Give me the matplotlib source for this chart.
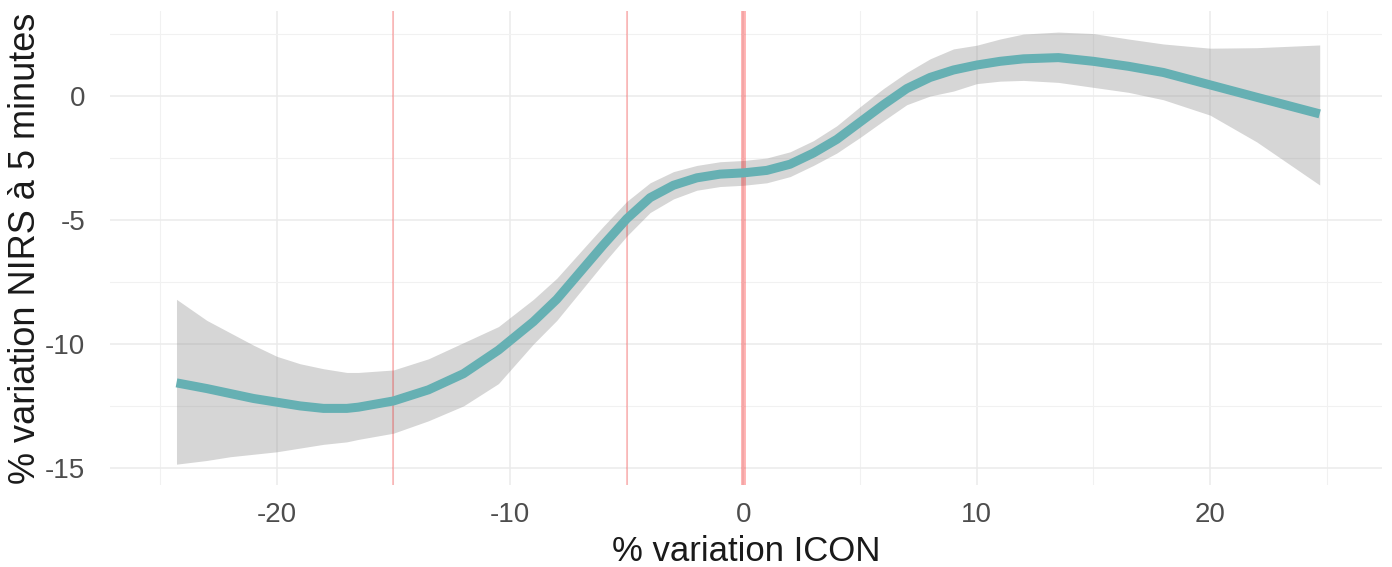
"""
Smooth fit of NIRS variation at 5 minutes against ICON variation,
with its confidence band and reference lines at -15, -5 and 0.
Output: out.png
"""

import matplotlib
matplotlib.use("Agg")
import matplotlib.pyplot as plt
from matplotlib.ticker import MultipleLocator

# values
icon_pct = [-24.3, -23, -22, -21, -20, -19, -18, -17, -16.5, -15, -13.5, -12,
            -10.5, -9, -8, -7, -6, -5, -4, -3, -2, -1, 0, 1, 2, 3, 4, 5, 6, 7,
            8, 9, 10, 11, 12, 13.5, 15, 16.5, 18, 20, 22, 24.7]
nirs_fit = [-11.57, -11.8, -12.0, -12.2, -12.35, -12.5, -12.6, -12.6, -12.55,
            -12.3, -11.85, -11.2, -10.25, -9.1, -8.2, -7.1, -6.0, -4.95, -4.1,
            -3.6, -3.3, -3.15, -3.1, -3.0, -2.75, -2.3, -1.75, -1.05, -0.35,
            0.3, 0.75, 1.05, 1.25, 1.4, 1.5, 1.55, 1.4, 1.2, 0.95, 0.45, -0.05,
            -0.72]
nirs_upper = [-8.2, -9.05, -9.55, -10.05, -10.5, -10.8, -11.0, -11.15, -11.15,
              -11.05, -10.6, -9.95, -9.3, -8.2, -7.35, -6.3, -5.25, -4.25, -3.5,
              -3.05, -2.8, -2.65, -2.6, -2.5, -2.25, -1.8, -1.2, -0.43, 0.3,
              0.95, 1.5, 1.9, 2.05, 2.3, 2.5, 2.58, 2.52, 2.3, 2.1, 1.93, 1.95,
              2.06]
nirs_lower = [-14.85, -14.7, -14.55, -14.45, -14.35, -14.2, -14.05, -13.95,
              -13.85, -13.6, -13.1, -12.5, -11.6, -10.0, -9.05, -7.9, -6.75,
              -5.65, -4.7, -4.15, -3.8, -3.65, -3.6, -3.5, -3.25, -2.8, -2.3,
              -1.67, -1.0, -0.35, 0.0, 0.2, 0.5, 0.6, 0.63, 0.55, 0.35, 0.15,
              -0.15, -0.77, -1.85, -3.59]

thin_refs = [-15, -5]
thick_ref = 0

x_ticks = [-20, -10, 0, 10, 20]
y_ticks = [-15, -10, -5, 0]

plt.rcParams["font.family"] = ["Liberation Sans", "DejaVu Sans"]
plt.rcParams["axes.unicode_minus"] = False

fig = plt.figure(figsize=(13.92, 5.67), dpi=100)
ax = fig.add_axes([110 / 1392, 82 / 567, 1272 / 1392, 474 / 567])

# ggplot-like minimal grid
ax.set_xlim(-27.15, 27.37)
ax.set_ylim(-15.69, 3.43)
ax.set_xticks(x_ticks)
ax.set_yticks(y_ticks)
ax.xaxis.set_minor_locator(MultipleLocator(5))
ax.yaxis.set_minor_locator(MultipleLocator(2.5))
ax.grid(True, which="major", color="#EBEBEB", linewidth=1.1, zorder=0)
ax.grid(True, which="minor", color="#F1F1F1", linewidth=0.8, zorder=0)
ax.set_axisbelow(True)
for s in ax.spines.values():
    s.set_visible(False)
ax.tick_params(which="both", length=0)
ax.tick_params(axis="x", labelsize=20, labelcolor="#4D4D4D", pad=12)
ax.tick_params(axis="y", labelsize=20, labelcolor="#4D4D4D", pad=18)

# confidence band and fit
ax.fill_between(icon_pct, nirs_lower, nirs_upper, color="#999999", alpha=0.4,
                linewidth=0, zorder=2)

for xv in thin_refs:
    ax.axvline(xv, color="red", alpha=0.3, linewidth=1.1, zorder=3)
ax.axvline(thick_ref, color="red", alpha=0.3, linewidth=3.5, zorder=3)

ax.plot(icon_pct, nirs_fit, color="#66B0B3", linewidth=6.5,
        solid_capstyle="butt", solid_joinstyle="round", zorder=4)

ax.set_xlabel("% variation ICON", fontsize=25, color="#1A1A1A", labelpad=5)
ax.set_ylabel("% variation NIRS à 5 minutes", fontsize=26, color="#1A1A1A",
              labelpad=1)

fig.savefig("out.png", dpi=100)
